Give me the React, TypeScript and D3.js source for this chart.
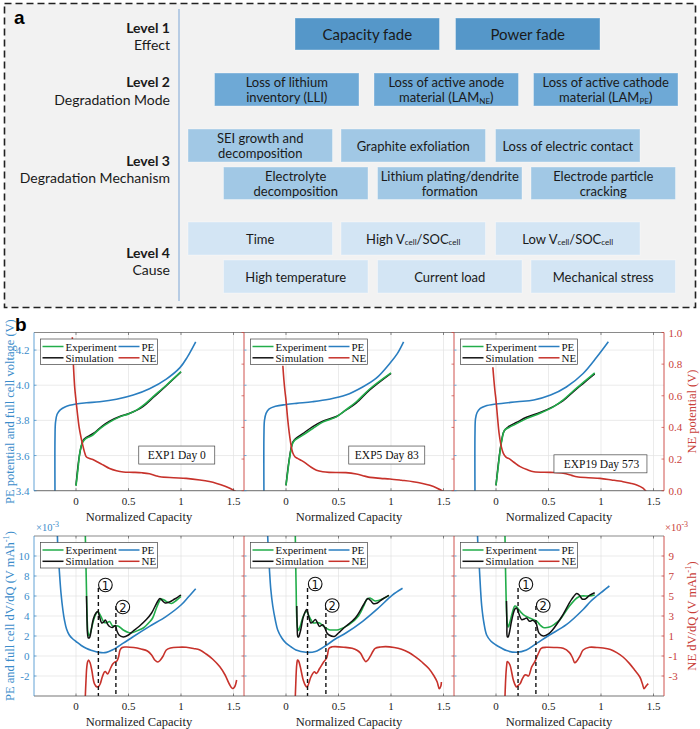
import React from 'react';
import * as d3 from 'd3';

type P = [number, number];

// ---------------- Panel a content ----------------
const levelTitles = ['Level 1', 'Level 2', 'Level 3', 'Level 4'];
const levelSubtitles = ['Effect', 'Degradation Mode', 'Degradation Mechanism', 'Cause'];
const level1Items = ['Capacity fade', 'Power fade'];
const level2Items = ['Loss of lithium|inventory (LLI)', 'Loss of active anode|material (LAM_{NE})', 'Loss of active cathode|material (LAM_{PE})'];
const level3RowA = ['SEI growth and|decomposition', 'Graphite exfoliation', 'Loss of electric contact'];
const level3RowB = ['Electrolyte|decomposition', 'Lithium plating/dendrite|formation', 'Electrode particle|cracking'];
const level4RowA = ['Time', 'High V_{cell}/SOC_{cell}', 'Low V_{cell}/SOC_{cell}'];
const level4RowB = ['High temperature', 'Current load', 'Mechanical stress'];

// ---------------- Panel b data ----------------
const X_TICKS = [0, 0.5, 1, 1.5];
const V_TICKS = [3.4, 3.6, 3.8, 4.0, 4.2];
const NEV_TICKS = [0, 0.2, 0.4, 0.6, 0.8, 1.0];
const DVDQ_TICKS = [-2, 0, 2, 4, 6, 8, 10];
const NEDVDQ_TICKS = [-3, -1, 1, 3, 5, 7, 9];
const experimentLabels = ['EXP1 Day 0', 'EXP5 Day 83', 'EXP19 Day 573'];
const labelPos: P[] = [[0.95, 3.6], [0.95, 3.6], [0.99, 3.55]];

// Voltage curves (PE & full cell on left axis, NE on right axis)
const pe1: P[] = [[-0.2, 3.38], [-0.2, 3.7], [-0.195, 3.79], [-0.18, 3.835], [-0.15, 3.86], [-0.1, 3.878], [0, 3.893], [0.1, 3.9], [0.226, 3.906], [0.385, 3.92], [0.545, 3.944], [0.7, 3.98], [0.86, 4.035], [0.99, 4.1], [1.06, 4.16], [1.14, 4.247]];
const exp1: P[] = [[0, 3.427], [0.02, 3.53], [0.035, 3.61], [0.05, 3.655], [0.067, 3.68], [0.09, 3.695], [0.12, 3.705], [0.16, 3.717], [0.226, 3.752], [0.32, 3.79], [0.417, 3.82], [0.5, 3.837], [0.58, 3.86], [0.64, 3.885], [0.735, 3.935], [0.86, 4.0], [1.0, 4.077]];
const sim1: P[] = [[0, 3.43], [0.035, 3.61], [0.067, 3.685], [0.09, 3.7], [0.12, 3.71], [0.18, 3.732], [0.25, 3.768], [0.32, 3.796], [0.417, 3.822], [0.5, 3.838], [0.58, 3.858], [0.64, 3.88], [0.735, 3.93], [0.86, 3.998], [1.0, 4.075]];
const ne1: P[] = [[-0.035, 0.97], [-0.025, 0.8], [-0.012, 0.65], [0, 0.57], [0.015, 0.48], [0.03, 0.4], [0.05, 0.33], [0.067, 0.28], [0.085, 0.235], [0.1, 0.213], [0.13, 0.203], [0.16, 0.197], [0.21, 0.18], [0.26, 0.162], [0.32, 0.14], [0.385, 0.126], [0.45, 0.118], [0.545, 0.116], [0.63, 0.113], [0.7, 0.107], [0.76, 0.095], [0.8, 0.088], [0.93, 0.082], [1.05, 0.078], [1.18, 0.068], [1.27, 0.058], [1.34, 0.046], [1.42, 0.028], [1.47, 0.014], [1.52, -0.005]];

const pe2: P[] = [[-0.21, 3.38], [-0.21, 3.72], [-0.205, 3.8], [-0.19, 3.84], [-0.16, 3.865], [-0.1, 3.88], [0, 3.89], [0.1, 3.897], [0.25, 3.906], [0.41, 3.92], [0.57, 3.944], [0.73, 3.99], [0.86, 4.04], [0.99, 4.125], [1.06, 4.18], [1.12, 4.247]];
const exp2: P[] = [[0, 3.43], [0.015, 3.5], [0.03, 3.57], [0.05, 3.64], [0.064, 3.67], [0.08, 3.685], [0.095, 3.692], [0.16, 3.716], [0.255, 3.754], [0.35, 3.79], [0.48, 3.82], [0.57, 3.86], [0.67, 3.906], [0.8, 3.98], [1.0, 4.07]];
const sim2: P[] = [[0, 3.43], [0.03, 3.575], [0.064, 3.675], [0.095, 3.698], [0.16, 3.725], [0.255, 3.765], [0.35, 3.796], [0.48, 3.822], [0.57, 3.858], [0.67, 3.9], [0.8, 3.975], [1.0, 4.068]];
const ne2: P[] = [[-0.03, 0.79], [-0.02, 0.7], [-0.01, 0.63], [0, 0.573], [0.015, 0.46], [0.03, 0.37], [0.05, 0.28], [0.064, 0.24], [0.085, 0.215], [0.11, 0.204], [0.15, 0.19], [0.19, 0.173], [0.24, 0.148], [0.29, 0.13], [0.35, 0.12], [0.41, 0.116], [0.57, 0.114], [0.67, 0.105], [0.75, 0.092], [0.8, 0.084], [0.9, 0.078], [0.99, 0.074], [1.1, 0.066], [1.21, 0.057], [1.3, 0.046], [1.37, 0.034], [1.44, 0.016], [1.5, -0.005]];

const pe3: P[] = [[-0.2, 3.38], [-0.2, 3.73], [-0.195, 3.81], [-0.18, 3.845], [-0.15, 3.868], [-0.1, 3.882], [0, 3.893], [0.2, 3.906], [0.36, 3.916], [0.52, 3.944], [0.67, 3.99], [0.83, 4.067], [0.96, 4.16], [1.07, 4.247]];
const exp3: P[] = [[0, 3.43], [0.02, 3.53], [0.04, 3.63], [0.06, 3.7], [0.082, 3.745], [0.12, 3.758], [0.2, 3.783], [0.29, 3.81], [0.42, 3.84], [0.55, 3.878], [0.64, 3.916], [0.74, 3.97], [0.84, 4.02], [0.94, 4.07]];
const sim3: P[] = [[0, 3.43], [0.04, 3.635], [0.07, 3.73], [0.09, 3.75], [0.12, 3.765], [0.2, 3.79], [0.29, 3.818], [0.42, 3.845], [0.55, 3.88], [0.64, 3.912], [0.74, 3.965], [0.84, 4.015], [0.94, 4.065]];
const ne3: P[] = [[-0.03, 0.78], [-0.02, 0.7], [-0.01, 0.63], [0, 0.573], [0.015, 0.46], [0.03, 0.36], [0.05, 0.28], [0.07, 0.236], [0.095, 0.212], [0.12, 0.204], [0.17, 0.18], [0.23, 0.152], [0.3, 0.132], [0.36, 0.12], [0.52, 0.116], [0.64, 0.11], [0.72, 0.097], [0.77, 0.088], [0.88, 0.082], [0.99, 0.078], [1.1, 0.068], [1.21, 0.057], [1.28, 0.047], [1.34, 0.036], [1.4, 0.016], [1.43, -0.005]];

// Differential voltage curves (x1e-3). PE/Exp/Sim on left axis, NE on right axis
const dpe1: P[] = [[-0.178, 12.4], [-0.172, 10.5], [-0.16, 8.7], [-0.143, 6.3], [-0.125, 4.6], [-0.11, 3.6], [-0.09, 2.7], [-0.064, 2.1], [-0.03, 1.7], [0, 1.45], [0.05, 1.05], [0.096, 0.77], [0.15, 0.55], [0.22, 0.36], [0.29, 0.36], [0.35, 0.62], [0.45, 1.28], [0.54, 1.9], [0.7, 2.96], [0.86, 3.97], [1.0, 5.1], [1.07, 5.9], [1.14, 6.73]];
const dexp1: P[] = [[0.088, 12.4], [0.093, 10], [0.098, 7.5], [0.103, 5], [0.108, 3.3], [0.115, 2.3], [0.127, 2.0], [0.14, 2.4], [0.16, 3.3], [0.185, 4.1], [0.207, 4.45], [0.225, 4.2], [0.24, 3.9], [0.27, 3.35], [0.3, 3.35], [0.32, 3.45], [0.35, 3.0], [0.4, 3.0], [0.45, 2.6], [0.5, 2.35], [0.54, 2.35], [0.6, 2.6], [0.64, 2.8], [0.7, 3.4], [0.73, 3.8], [0.77, 4.9], [0.81, 5.7], [0.84, 5.6], [0.86, 5.45], [0.91, 5.25], [0.96, 5.6], [1.0, 5.95]];
const dsim1: P[] = [[0.1, 6], [0.105, 3.5], [0.11, 2.2], [0.118, 1.8], [0.13, 1.85], [0.145, 2.6], [0.165, 3.7], [0.19, 4.3], [0.207, 4.45], [0.225, 3.9], [0.245, 3.3], [0.265, 3.4], [0.28, 3.6], [0.3, 3.2], [0.32, 2.95], [0.345, 2.85], [0.365, 3.0], [0.376, 3.05], [0.39, 2.5], [0.41, 2.1], [0.45, 1.9], [0.5, 2.1], [0.54, 2.45], [0.6, 2.95], [0.67, 3.64], [0.72, 4.3], [0.75, 4.9], [0.78, 5.5], [0.8, 5.75], [0.83, 5.45], [0.85, 5.3], [0.89, 5.4], [0.94, 5.7], [1.0, 6.1]];
const dne1: P[] = [[0.088, -5.2], [0.095, -3.5], [0.102, -2.2], [0.11, -1.6], [0.12, -1.4], [0.135, -1.7], [0.15, -2.4], [0.175, -3.76], [0.2, -4.1], [0.215, -4.05], [0.23, -3.8], [0.25, -3.1], [0.27, -2.6], [0.28, -2.55], [0.3, -2.8], [0.33, -2.2], [0.35, -1.8], [0.376, -1.57], [0.39, -1.5], [0.405, -1.1], [0.42, -0.4], [0.44, -0.15], [0.47, -0.1], [0.55, -0.15], [0.62, -0.3], [0.68, -0.5], [0.72, -0.9], [0.75, -1.4], [0.78, -1.6], [0.8, -1.45], [0.83, -1.0], [0.86, -0.4], [0.9, -0.2], [0.98, -0.12], [1.05, -0.13], [1.12, -0.25], [1.18, -0.4], [1.24, -0.8], [1.3, -1.3], [1.37, -2.08], [1.42, -2.9], [1.46, -3.8], [1.49, -4.25], [1.51, -4.1], [1.53, -3.4]];

const dpe2: P[] = [[-0.176, 12.4], [-0.168, 10.5], [-0.158, 8.7], [-0.145, 6.7], [-0.126, 5.0], [-0.1, 3.5], [-0.079, 2.6], [-0.04, 1.8], [0, 1.28], [0.05, 0.9], [0.095, 0.6], [0.19, 0.37], [0.28, 0.45], [0.38, 1.05], [0.47, 1.7], [0.57, 2.3], [0.73, 3.47], [0.88, 4.8], [1.01, 6.06], [1.11, 6.77]];
const dexp2: P[] = [[0.088, 12.4], [0.092, 9.5], [0.097, 6.5], [0.1, 4.5], [0.104, 3.5], [0.112, 2.7], [0.12, 2.55], [0.13, 2.8], [0.14, 3.13], [0.165, 4.0], [0.196, 4.48], [0.215, 4.1], [0.237, 3.64], [0.255, 3.35], [0.27, 3.3], [0.3, 3.35], [0.32, 3.3], [0.36, 2.96], [0.41, 2.63], [0.45, 2.6], [0.5, 2.63], [0.6, 3.13], [0.69, 4.0], [0.74, 5.0], [0.77, 5.66], [0.8, 5.8], [0.83, 5.6], [0.85, 5.5], [0.92, 5.7], [0.98, 6.06]];
const dsim2: P[] = [[0.103, 5.0], [0.107, 2.7], [0.112, 1.95], [0.12, 1.9], [0.13, 2.2], [0.14, 2.6], [0.165, 3.9], [0.196, 4.65], [0.215, 4.0], [0.237, 3.3], [0.255, 3.4], [0.28, 3.64], [0.3, 3.3], [0.32, 2.96], [0.35, 3.13], [0.37, 2.8], [0.39, 2.3], [0.41, 2.1], [0.46, 1.95], [0.5, 2.3], [0.55, 2.8], [0.66, 3.8], [0.74, 5.15], [0.78, 5.76], [0.81, 5.5], [0.83, 5.25], [0.87, 5.3], [0.92, 5.7], [0.98, 6.06]];
const dne2: P[] = [[0.088, -5.2], [0.093, -3.8], [0.098, -2.5], [0.104, -1.7], [0.11, -1.4], [0.12, -1.5], [0.136, -2.08], [0.164, -3.4], [0.185, -3.95], [0.2, -4.1], [0.215, -3.8], [0.237, -3.1], [0.27, -2.58], [0.29, -2.75], [0.32, -2.25], [0.36, -1.57], [0.385, -1.24], [0.395, -0.9], [0.41, -0.23], [0.44, -0.08], [0.47, -0.06], [0.55, -0.12], [0.63, -0.23], [0.68, -0.45], [0.71, -0.73], [0.74, -1.3], [0.76, -1.57], [0.78, -1.4], [0.8, -1.07], [0.83, -0.5], [0.85, -0.23], [0.9, -0.1], [0.95, -0.06], [1.03, -0.15], [1.1, -0.33], [1.17, -0.65], [1.23, -1.07], [1.3, -1.65], [1.36, -2.25], [1.41, -3.0], [1.44, -3.6], [1.46, -4.27], [1.475, -4.0], [1.48, -3.6]];

const dpe3: P[] = [[-0.177, 12.4], [-0.17, 10.5], [-0.158, 8.7], [-0.148, 6.8], [-0.136, 5.0], [-0.115, 3.3], [-0.089, 2.1], [-0.05, 1.5], [0, 1.1], [0.05, 0.8], [0.1, 0.54], [0.196, 0.37], [0.29, 0.6], [0.39, 1.28], [0.51, 2.1], [0.67, 3.13], [0.83, 4.65], [0.9, 5.45], [0.96, 6.0], [1.02, 6.5], [1.08, 7.0]];
const dexp3: P[] = [[0.085, 12.4], [0.09, 9], [0.095, 6.5], [0.1, 4.5], [0.108, 3.2], [0.117, 2.9], [0.133, 3.4], [0.155, 4.3], [0.18, 5.0], [0.2, 4.9], [0.212, 4.7], [0.26, 4.14], [0.32, 3.8], [0.39, 3.47], [0.42, 3.1], [0.45, 2.85], [0.51, 2.9], [0.56, 3.2], [0.61, 3.64], [0.7, 5.0], [0.77, 5.8], [0.81, 6.0], [0.89, 6.0], [0.94, 6.1]];
const dsim3: P[] = [[0.1, 5.5], [0.104, 3.0], [0.107, 1.95], [0.115, 1.9], [0.127, 2.3], [0.15, 3.6], [0.18, 4.7], [0.195, 4.8], [0.21, 4.48], [0.244, 3.64], [0.27, 3.7], [0.29, 3.8], [0.32, 3.47], [0.35, 3.57], [0.38, 3.3], [0.41, 2.29], [0.45, 2.0], [0.5, 2.2], [0.54, 2.63], [0.63, 4.0], [0.72, 5.66], [0.77, 6.26], [0.8, 6.0], [0.82, 5.7], [0.85, 5.7], [0.89, 6.06], [0.94, 6.33]];
const dne3: P[] = [[0.085, -5.2], [0.09, -3.8], [0.096, -2.6], [0.102, -1.9], [0.107, -1.57], [0.115, -1.6], [0.133, -1.9], [0.165, -3.4], [0.185, -3.95], [0.196, -4.1], [0.21, -3.95], [0.23, -3.76], [0.25, -3.3], [0.275, -2.9], [0.29, -2.9], [0.31, -3.0], [0.34, -2.08], [0.37, -1.57], [0.39, -1.07], [0.41, -0.6], [0.43, -0.23], [0.48, -0.13], [0.56, -0.15], [0.64, -0.23], [0.7, -0.66], [0.73, -1.2], [0.75, -1.67], [0.77, -1.5], [0.8, -1.0], [0.83, -0.4], [0.89, -0.13], [0.96, -0.15], [1.02, -0.2], [1.09, -0.35], [1.15, -0.66], [1.21, -1.1], [1.27, -1.74], [1.32, -2.4], [1.37, -3.1], [1.395, -3.8], [1.41, -4.27], [1.43, -4.0], [1.45, -3.76]];

// Peak markers (x position, top of dashed line on left axis)
const peak1X = [0.213, 0.205, 0.21];
const peak2X = [0.38, 0.38, 0.38];
const peak1Top = [6.8, 6.8, 6.8];
const peak2Top = [5.0, 5.0, 5.0];
const circle1Pos: P[] = [[0.28, 7.1], [0.278, 7.2], [0.285, 7.17]];
const circle2Pos: P[] = [[0.446, 4.9], [0.44, 5.05], [0.45, 5.05]];

// ---------------- styling ----------------
const BLUE_TXT = '#3b8cca';
const RED_TXT = '#c9403a';
const PE_C = '#2a7ec0';
const NE_C = '#c7322b';
const EXP_C = '#22ad4a';
const SIM_C = '#111111';
const SERIF = '"Liberation Serif", "Times New Roman", serif';
const SANS_A = 'Lato, "Open Sans", sans-serif';

const PANEL_LEFTS = [34, 244, 454];
const PANEL_W = 210;
const TOP_ROW = { top: 332.5, bottom: 490.7 };
const BOT_ROW = { top: 536, bottom: 696 };

function RichText({ s, x, y, size, anchor = 'middle', fill = '#1a1a1a', weight = 'normal' }: any) {
  const parts: { t: string; sub: boolean }[] = [];
  const re = /_\{([^}]*)\}/g;
  let last = 0;
  let m: RegExpExecArray | null;
  while ((m = re.exec(s))) {
    if (m.index > last) parts.push({ t: s.slice(last, m.index), sub: false });
    parts.push({ t: m[1], sub: true });
    last = m.index + m[0].length;
  }
  if (last < s.length) parts.push({ t: s.slice(last), sub: false });
  let prevSub = false;
  return (
    <text x={x} y={y} fontSize={size} textAnchor={anchor} fill={fill} fontWeight={weight} fontFamily={SANS_A} dominantBaseline="central">
      {parts.map((p, i) => {
        const dy = p.sub && !prevSub ? size * 0.3 : !p.sub && prevSub ? -size * 0.3 : 0;
        prevSub = p.sub;
        return (
          <tspan key={i} dy={dy} fontSize={p.sub ? size * 0.62 : size}>
            {p.t}
          </tspan>
        );
      })}
    </text>
  );
}

function BoxRow({ items, xs, y0, y1, fill, size }: { items: string[]; xs: number[]; y0: number; y1: number; fill: string; size: number }) {
  const w = 144.5;
  return (
    <g>
      {items.map((it, i) => {
        const lines = it.split('|');
        const cx = xs[i] + w / 2;
        const cy = (y0 + y1) / 2;
        const lh = 15.5;
        return (
          <g key={i}>
            <rect x={xs[i]} y={y0} width={w} height={y1 - y0} fill={fill} stroke="#ffffff" strokeOpacity={0.35} strokeWidth={1} />
            {lines.map((ln, j) => (
              <RichText key={j} s={ln} x={cx} y={cy + (j - (lines.length - 1) / 2) * lh} size={size} />
            ))}
          </g>
        );
      })}
    </g>
  );
}

function PanelA() {
  const levelY: P[] = [[27, 44], [81, 99], [160, 177], [252, 269]];
  return (
    <g>
      <rect x={4.5} y={3.5} width={691} height={304} fill="#f2f2f2" stroke="#222" strokeWidth={1.6} strokeDasharray="7,4" />
      <text x={14} y={24} fontSize={19} fontWeight="bold" fontFamily="Arial, Liberation Sans, sans-serif">a</text>
      <line x1={179} x2={179} y1={9} y2={301} stroke="#8fb3da" strokeWidth={1.2} />
      {levelTitles.map((t, i) => (
        <g key={t}>
          <text x={170} y={levelY[i][0]} textAnchor="end" dominantBaseline="central" fontSize={14} fontWeight="bold" fontFamily={SANS_A} fill="#1a1a1a">{t}</text>
          <text x={170} y={levelY[i][1]} textAnchor="end" dominantBaseline="central" fontSize={14} fontFamily={SANS_A} fill="#1a1a1a">{levelSubtitles[i]}</text>
        </g>
      ))}
      <BoxRow items={level1Items} xs={[295, 455.5]} y0={18} y1={50} fill="#5597c9" size={15} />
      <BoxRow items={level2Items} xs={[214.5, 374, 533.5]} y0={73} y1={106} fill="#6ea9d6" size={13} />
      <BoxRow items={level3RowA} xs={[188, 341, 495.5]} y0={129} y1={162} fill="#a1c8e5" size={13} />
      <BoxRow items={level3RowB} xs={[223.5, 377.5, 531]} y0={167} y1={199.5} fill="#a1c8e5" size={13} />
      <BoxRow items={level4RowA} xs={[188, 341, 495.5]} y0={222} y1={255} fill="#d3e5f4" size={13} />
      <BoxRow items={level4RowB} xs={[223.5, 377.5, 531]} y0={260} y1={293} fill="#d3e5f4" size={13} />
    </g>
  );
}

type PanelProps = {
  idx: number;
  row: { top: number; bottom: number };
  yDom: [number, number];
  y2Dom: [number, number];
  yTicks: number[];
  y2Ticks: number[];
  yFmt: (v: number) => string;
  exp: P[];
  sim: P[];
  pe: P[];
  ne: P[];
  simOnTop: boolean;
  kind: 'v' | 'dv';
};

function Panel(p: PanelProps) {
  const left = PANEL_LEFTS[p.idx];
  const right = left + PANEL_W;
  const x = d3.scaleLinear().domain([-0.4, 1.6]).range([left, right]);
  const y = d3.scaleLinear().domain(p.yDom).range([p.row.bottom, p.row.top]);
  const y2 = d3.scaleLinear().domain(p.y2Dom).range([p.row.bottom, p.row.top]);
  const lineL = d3.line<P>().x((d) => x(d[0])).y((d) => y(d[1])).curve(d3.curveCatmullRom.alpha(0.5));
  const lineR = d3.line<P>().x((d) => x(d[0])).y((d) => y2(d[1])).curve(d3.curveCatmullRom.alpha(0.5));
  const clipId = `clip-${p.kind}-${p.idx}`;
  const top = p.row.top;
  const bot = p.row.bottom;
  const expPath = <path d={lineL(p.exp) || ''} fill="none" stroke={EXP_C} strokeWidth={1.6} />;
  const simPath = <path d={lineL(p.sim) || ''} fill="none" stroke={SIM_C} strokeWidth={1.5} />;
  const lgX = left + 6.5;
  const lgY = top + 6.5;
  const legendItems: [string, string, number, number][] = [
    ['Experiment', EXP_C, 0, 0],
    ['Simulation', SIM_C, 0, 1],
    ['PE', PE_C, 1, 0],
    ['NE', NE_C, 1, 1],
  ];
  return (
    <g>
      <defs>
        <clipPath id={clipId}>
          <rect x={left} y={top} width={PANEL_W} height={bot - top} />
        </clipPath>
      </defs>
      {/* grid */}
      {X_TICKS.map((t) => (
        <line key={'gx' + t} x1={x(t)} x2={x(t)} y1={top} y2={bot} stroke="#e3e3e3" strokeWidth={0.7} />
      ))}
      {p.yTicks.map((t) => (
        <line key={'gy' + t} x1={left} x2={right} y1={y(t)} y2={y(t)} stroke="#e3e3e3" strokeWidth={0.7} />
      ))}
      <g clipPath={`url(#${clipId})`}>
        {p.simOnTop ? expPath : simPath}
        {p.simOnTop ? simPath : expPath}
        <path d={lineL(p.pe) || ''} fill="none" stroke={PE_C} strokeWidth={1.6} />
        <path d={lineR(p.ne) || ''} fill="none" stroke={NE_C} strokeWidth={1.6} />
        {p.kind === 'dv' && (
          <g>
            <line x1={x(peak1X[p.idx])} x2={x(peak1X[p.idx])} y1={y(peak1Top[p.idx])} y2={bot} stroke="#111" strokeWidth={1.4} strokeDasharray="4,3" />
            <line x1={x(peak2X[p.idx])} x2={x(peak2X[p.idx])} y1={y(peak2Top[p.idx])} y2={bot} stroke="#111" strokeWidth={1.4} strokeDasharray="4,3" />
            {[circle1Pos[p.idx], circle2Pos[p.idx]].map((c, i) => (
              <g key={i}>
                <circle cx={x(c[0])} cy={y(c[1])} r={6.8} fill="#fff" stroke="#111" strokeWidth={1.1} />
                <text x={x(c[0])} y={y(c[1]) + 0.5} textAnchor="middle" dominantBaseline="central" fontSize={11.5} fontFamily='"DejaVu Sans", sans-serif' fill="#111">{i + 1}</text>
              </g>
            ))}
          </g>
        )}
      </g>
      {/* frame */}
      <line x1={left} x2={right} y1={top} y2={top} stroke="#3a3a3a" strokeWidth={0.6} />
      <line x1={left} x2={right} y1={bot} y2={bot} stroke="#3a3a3a" strokeWidth={0.7} />
      {p.idx === 0 && <line x1={left} x2={left} y1={top} y2={bot} stroke={BLUE_TXT} strokeWidth={0.8} />}
      <line x1={right} x2={right} y1={top} y2={bot} stroke={RED_TXT} strokeWidth={0.9} />
      {/* ticks */}
      {X_TICKS.map((t) => (
        <g key={'tx' + t}>
          <line x1={x(t)} x2={x(t)} y1={bot} y2={bot - 2.5} stroke="#3a3a3a" strokeWidth={0.6} />
          <line x1={x(t)} x2={x(t)} y1={top} y2={top + 2.5} stroke="#3a3a3a" strokeWidth={0.6} />
          <text x={x(t)} y={bot + 10} textAnchor="middle" dominantBaseline="central" fontSize={11} fontFamily={SERIF} fill="#222">{String(t)}</text>
        </g>
      ))}
      {p.yTicks.map((t) => (
        <line key={'ty' + t} x1={left} x2={left + 2.5} y1={y(t)} y2={y(t)} stroke={BLUE_TXT} strokeWidth={0.7} />
      ))}
      {p.y2Ticks.map((t) => (
        <line key={'ty2' + t} x1={right} x2={right - 2.5} y1={y2(t)} y2={y2(t)} stroke={RED_TXT} strokeWidth={0.7} />
      ))}
      {p.idx === 0 &&
        p.yTicks.map((t) => (
          <text key={'yl' + t} x={left - 4.5} y={y(t)} textAnchor="end" dominantBaseline="central" fontSize={11} fontFamily={SERIF} fill={BLUE_TXT}>{p.yFmt(t)}</text>
        ))}
      {p.idx === 2 &&
        p.y2Ticks.map((t) => (
          <text key={'yr' + t} x={right + 4.5} y={y2(t)} textAnchor="start" dominantBaseline="central" fontSize={11} fontFamily={SERIF} fill={RED_TXT}>{p.kind === 'v' ? t.toFixed(1) : String(t)}</text>
        ))}
      <text x={(left + right) / 2} y={bot + 26} textAnchor="middle" dominantBaseline="central" fontSize={12.5} fontFamily={SERIF} fill="#222">Normalized Capacity</text>
      {/* legend */}
      <rect x={lgX} y={lgY} width={117} height={25.5} fill="#fff" stroke="#444" strokeWidth={0.7} />
      {legendItems.map(([name, col, c, r]) => {
        const lx = lgX + (c === 0 ? 2 : 78);
        const ly = lgY + 7.5 + r * 11.3;
        return (
          <g key={name}>
            <line x1={lx} x2={lx + 21} y1={ly} y2={ly} stroke={col} strokeWidth={1.5} />
            <text x={lx + 23} y={ly} dominantBaseline="central" fontSize={11} fontFamily={SERIF} fill="#111">{name}</text>
          </g>
        );
      })}
      {p.kind === 'v' && (
        <g>
          <rect x={x(labelPos[p.idx][0]) - 37} y={y(labelPos[p.idx][1]) - 9.5} width={p.idx === 2 ? 93 : 76} height={18} transform={p.idx === 2 ? 'translate(-9,0)' : undefined} fill="#fff" stroke="#444" strokeWidth={0.7} />
          <text x={x(labelPos[p.idx][0]) + (p.idx === 2 ? 1.5 : 1)} y={y(labelPos[p.idx][1]) - 0.5} textAnchor="middle" dominantBaseline="central" fontSize={11.5} fontFamily={SERIF} fill="#111">{experimentLabels[p.idx]}</text>
        </g>
      )}
    </g>
  );
}

export default function App() {
  const topSets = [
    { exp: exp1, sim: sim1, pe: pe1, ne: ne1 },
    { exp: exp2, sim: sim2, pe: pe2, ne: ne2 },
    { exp: exp3, sim: sim3, pe: pe3, ne: ne3 },
  ];
  const botSets = [
    { exp: dexp1, sim: dsim1, pe: dpe1, ne: dne1 },
    { exp: dexp2, sim: dsim2, pe: dpe2, ne: dne2 },
    { exp: dexp3, sim: dsim3, pe: dpe3, ne: dne3 },
  ];
  const topMid = (TOP_ROW.top + TOP_ROW.bottom) / 2;
  const botMid = (BOT_ROW.top + BOT_ROW.bottom) / 2;
  return (
    <svg width={700} height={729} style={{ position: 'absolute', left: 0, top: 0, background: '#fff' }}>
      <rect x={0} y={0} width={700} height={729} fill="#fff" />
      <PanelA />
      <text x={15} y={331} fontSize={19} fontWeight="bold" fontFamily="Arial, Liberation Sans, sans-serif">b</text>
      {topSets.map((s, i) => (
        <Panel key={'t' + i} idx={i} row={TOP_ROW} yDom={[3.4, 4.3]} y2Dom={[0, 1]} yTicks={V_TICKS} y2Ticks={NEV_TICKS} yFmt={(v) => v.toFixed(1)} simOnTop={false} kind="v" {...s} />
      ))}
      {botSets.map((s, i) => (
        <Panel key={'b' + i} idx={i} row={BOT_ROW} yDom={[-4, 12]} y2Dom={[-5, 11]} yTicks={DVDQ_TICKS} y2Ticks={NEDVDQ_TICKS} yFmt={(v) => String(v)} simOnTop={true} kind="dv" {...s} />
      ))}
      {/* axis titles */}
      <text transform={`translate(9.5,${topMid}) rotate(-90)`} textAnchor="middle" dominantBaseline="central" fontSize={12.5} fontFamily={SERIF} fill={BLUE_TXT}>PE potential and full cell voltage (V)</text>
      <text transform={`translate(692,${topMid}) rotate(-90)`} textAnchor="middle" dominantBaseline="central" fontSize={12.5} fontFamily={SERIF} fill={RED_TXT}>NE potential (V)</text>
      <text transform={`translate(9.5,${botMid}) rotate(-90)`} textAnchor="middle" dominantBaseline="central" fontSize={12.5} fontFamily={SERIF} fill={BLUE_TXT}>
        PE and full cell dV/dQ (V mAh<tspan dy={-4} fontSize={8.5}>-1</tspan><tspan dy={4}>)</tspan>
      </text>
      <text transform={`translate(692,${botMid}) rotate(-90)`} textAnchor="middle" dominantBaseline="central" fontSize={12.5} fontFamily={SERIF} fill={RED_TXT}>
        NE dV/dQ (V mAh<tspan dy={-4} fontSize={8.5}>-1</tspan><tspan dy={4}>)</tspan>
      </text>
      <text x={36} y={531} fontSize={10.5} fontFamily={SERIF} fill={BLUE_TXT}>×10<tspan dy={-4} fontSize={8}>-3</tspan></text>
      <text x={665} y={531} fontSize={10.5} fontFamily={SERIF} fill={RED_TXT}>×10<tspan dy={-4} fontSize={8}>-3</tspan></text>
    </svg>
  );
}
